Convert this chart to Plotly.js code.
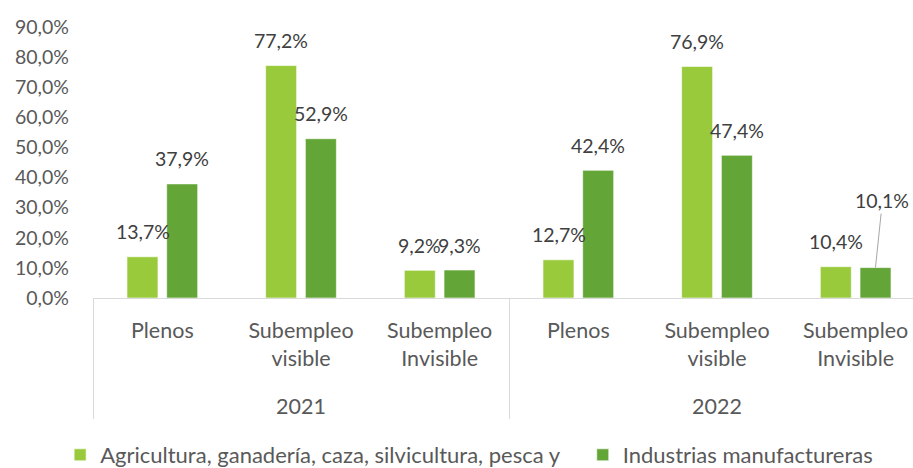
<!DOCTYPE html>
<html>
<head>
<meta charset="utf-8">
<script src="https://cdn.plot.ly/plotly-3.0.1.min.js"></script>
<style>html,body{margin:0;padding:0;overflow:hidden;background:#fff;}</style>
</head>
<body>
<div id="chart"></div>
<script>
var years = ["2021","2021","2021","2022","2022","2022"];
var categories = ["Plenos","Subempleo<br>visible","Subempleo<br>Invisible","Plenos","Subempleo<br>visible","Subempleo<br>Invisible"];
var seriesNames = ["Agricultura, ganadería, caza, silvicultura, pesca y", "Industrias manufactureras"];
var agricultura = [0.137, 0.772, 0.092, 0.127, 0.769, 0.104];
var manufactura = [0.379, 0.529, 0.093, 0.424, 0.474, 0.101];
var yTicks = [0, 0.1, 0.2, 0.3, 0.4, 0.5, 0.6, 0.7, 0.8, 0.9];

var colors = ["#99CA3C", "#63A537"];
var FONT = "Lato, 'Open Sans', sans-serif";
var series = [agricultura, manufactura];
var legendIds = ['legend', 'legend2'];

function fmt(v){ return (v*100).toFixed(1).replace('.', ',') + '%'; }

// year labels pushed below the two-line category labels
var yearLabels = years.map(function(y){ return "<br><span style='baseline-shift:-5px'>" + y + "</span>"; });

var traces = series.map(function(vals, i){
  return {
    type: 'bar',
    name: seriesNames[i],
    legend: legendIds[i],
    x: [yearLabels, categories],
    y: vals,
    marker: {color: colors[i], line: {color: 'rgba(255,255,255,0.6)', width: 1}},
    hoverinfo: 'none'
  };
});

var annotations = [];
var shifts = [-19.8, 19.8];
series.forEach(function(vals, i){
  vals.forEach(function(v, j){
    var a = {
      xref: 'x', yref: 'y', x: j, y: v,
      text: fmt(v), showarrow: false,
      xshift: shifts[i], yshift: 25, yanchor: 'middle', xanchor: 'center',
      font: {family: FONT, size: 19.5, color: '#404040'}
    };
    if (i === 1 && j === 5) {
      a.showarrow = true; a.arrowhead = 0; a.arrowwidth = 1; a.arrowcolor = '#A6A6A6';
      a.ax = 7; a.ay = -67; a.yshift = 0; a.standoff = 0;
    }
    annotations.push(a);
  });
});

var legendFont = {family: FONT, size: 22, color: '#595959'};
var layout = {
  width: 925, height: 468,
  margin: {l: 93, r: 0, t: 26.5, b: 170},
  paper_bgcolor: '#fff', plot_bgcolor: '#fff',
  separators: ',.',
  barmode: 'group', bargap: 0.427, bargroupgap: 0.22,
  font: {family: FONT, size: 19.5, color: '#595959'},
  showlegend: true,
  legend: {orientation: 'h', xref: 'container', yref: 'container', x: 0.065, xanchor: 'left',
           y: 0.0278, yanchor: 'middle', font: legendFont, itemwidth: 30, bgcolor: 'rgba(0,0,0,0)'},
  legend2: {orientation: 'h', xref: 'container', yref: 'container', x: 0.630, xanchor: 'left',
           y: 0.0278, yanchor: 'middle', font: legendFont, itemwidth: 30, bgcolor: 'rgba(0,0,0,0)'},
  xaxis: {
    type: 'multicategory', showline: true, linecolor: '#D9D9D9', linewidth: 1,
    showdividers: true, dividercolor: '#D9D9D9', dividerwidth: 1, automargin: false,
    tickfont: {family: FONT, size: 21.5, color: '#595959'},
    ticks: '', showgrid: false, zeroline: false, ticklabelstandoff: 13
  },
  yaxis: {
    range: [0, 0.9], tickvals: yTicks, tickformat: '.1%', automargin: false,
    showgrid: false, zeroline: false, showline: false, ticks: '',
    tickfont: {family: FONT, size: 19.5, color: '#595959'},
    ticklabelstandoff: 23
  },
  annotations: annotations
};

Plotly.newPlot('chart', traces, layout, {displayModeBar: false, staticPlot: true});
</script>
</body>
</html>
